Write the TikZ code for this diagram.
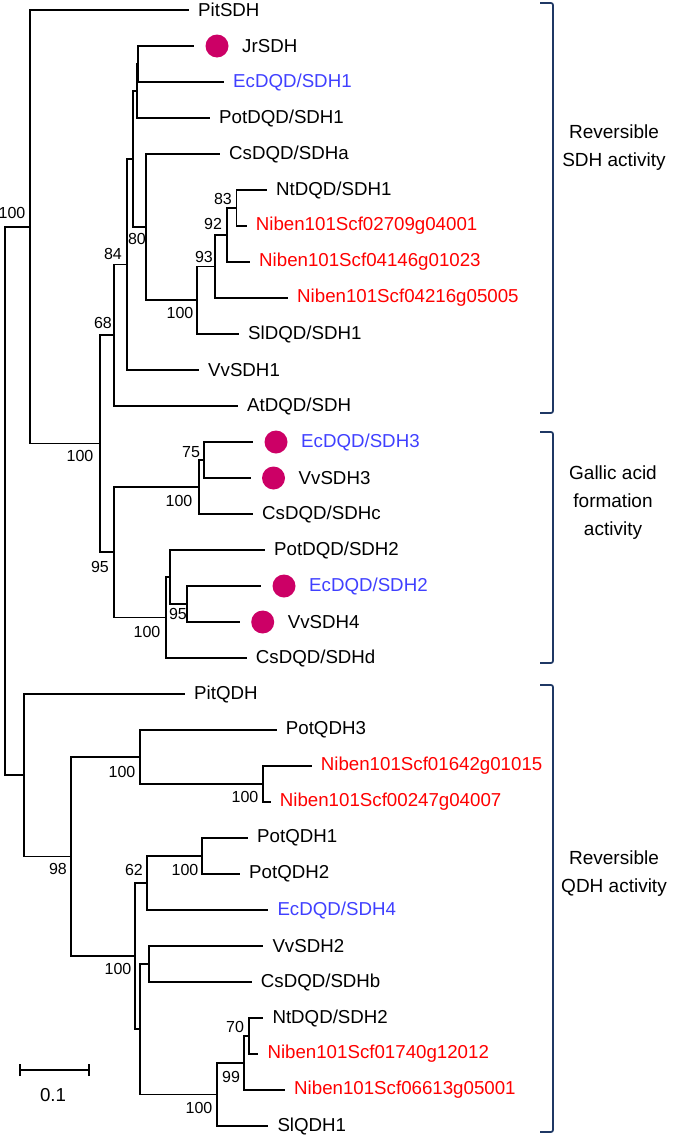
\documentclass[tikz,border=0pt]{standalone}
\usepackage{fontspec}
\setmainfont{Liberation Sans}
\definecolor{hitpink}{RGB}{204,0,102}
\definecolor{ecblue}{RGB}{64,64,255}
\definecolor{nbred}{RGB}{255,0,0}
\definecolor{cladeblue}{RGB}{31,56,100}
\newcommand\tipgap{9pt}
\newcommand\dotsize{23pt}
\newcommand\dotshift{16pt}
\tikzset{
  branch/.style={line width=1.7pt},
  leaf/.style={anchor=west,inner xsep=\tipgap,inner ysep=0pt,font=\fontsize{18.7}{22}\selectfont},
  boot/.style={inner sep=0pt,font=\fontsize{16}{18}\selectfont},
  hit/.style={circle,fill=hitpink,inner sep=0pt,minimum size=\dotsize,outer sep=11.5pt},
  clade/.style={draw=cladeblue,line width=1.7pt,rounded corners=2pt},
  cladetext/.style={align=center,font=\fontsize{19}{28}\selectfont}
}
\begin{document}
\begin{tikzpicture}[x=1pt,y=-1pt]
  \useasboundingbox (0,0) rectangle (695,1135);

  \coordinate (root) at (5,501);
  \coordinate (sdhAll) at (30,226.75);
  \coordinate (qdhAll) at (24,775);
  \coordinate (jrEc) at (138.3,64);
  \coordinate (jrPot) at (137.3,91);
  \coordinate (ntNb) at (236.5,208);
  \coordinate (nb92) at (226.7,235);
  \coordinate (nb93) at (215,266.5);
  \coordinate (sl100) at (197,300);
  \coordinate (cs80) at (146,227);
  \coordinate (topSdh) at (133,159);
  \coordinate (vv84) at (126.7,264.5);
  \coordinate (at68) at (114,335);
  \coordinate (sdh100) at (100,443.5);
  \coordinate (ec75) at (204.3,460);
  \coordinate (cs100c) at (199,487);
  \coordinate (ec95) at (187.3,604);
  \coordinate (potEc) at (170,577);
  \coordinate (cs100d) at (165.7,617.5);
  \coordinate (ga95) at (114,552);
  \coordinate (nb100) at (263.3,784);
  \coordinate (pot100) at (140,757);
  \coordinate (potQ100) at (201.7,856);
  \coordinate (ec62) at (147.3,883);
  \coordinate (vvCs) at (149.3,964);
  \coordinate (nt70) at (249.3,1036);
  \coordinate (nb99) at (244.3,1063);
  \coordinate (sl100q) at (216.7,1094.5);
  \coordinate (qdhLow) at (140,1029);
  \coordinate (qdh100) at (135,956);
  \coordinate (qdh98) at (70.7,856.5);

  \node[leaf] (PitSDH) at (189,10) {PitSDH};
  \node[hit] (JrDot) at (217,46) {};
  \node[leaf] (JrSDH) at ([xshift=\dotshift]JrDot.center) {JrSDH};
  \node[leaf,text=ecblue] (EcSDH1) at (224,82) {EcDQD/SDH1};
  \node[leaf] (PotSDH1) at (210,118) {PotDQD/SDH1};
  \node[leaf] (CsSDHa) at (220,154) {CsDQD/SDHa};
  \node[leaf] (NtSDH1) at (267,190) {NtDQD/SDH1};
  \node[leaf,text=nbred] (Nb02709) at (246.7,226) {Niben101Scf02709g04001};
  \node[leaf,text=nbred] (Nb04146) at (250,262) {Niben101Scf04146g01023};
  \node[leaf,text=nbred] (Nb04216) at (288,298) {Niben101Scf04216g05005};
  \node[leaf] (SlSDH1) at (239,334) {SlDQD/SDH1};
  \node[leaf] (VvSDH1) at (199,370) {VvSDH1};
  \node[leaf] (AtSDH) at (238,406) {AtDQD/SDH};
  \node[hit] (EcDot3) at (276,442) {};
  \node[leaf,text=ecblue] (EcSDH3) at ([xshift=\dotshift]EcDot3.center) {EcDQD/SDH3};
  \node[hit] (VvDot3) at (273.5,478) {};
  \node[leaf] (VvSDH3) at ([xshift=\dotshift]VvDot3.center) {VvSDH3};
  \node[leaf] (CsSDHc) at (253,514) {CsDQD/SDHc};
  \node[leaf] (PotSDH2) at (265,550) {PotDQD/SDH2};
  \node[hit] (EcDot2) at (284,586) {};
  \node[leaf,text=ecblue] (EcSDH2) at ([xshift=\dotshift]EcDot2.center) {EcDQD/SDH2};
  \node[hit] (VvDot4) at (262.7,622) {};
  \node[leaf] (VvSDH4) at ([xshift=\dotshift]VvDot4.center) {VvSDH4};
  \node[leaf] (CsSDHd) at (246.7,658) {CsDQD/SDHd};
  \node[leaf] (PitQDH) at (185,694) {PitQDH};
  \node[leaf] (PotQDH3) at (276.7,730) {PotQDH3};
  \node[leaf,text=nbred] (Nb01642) at (311.7,766) {Niben101Scf01642g01015};
  \node[leaf,text=nbred] (Nb00247) at (270.7,802) {Niben101Scf00247g04007};
  \node[leaf] (PotQDH1) at (248,838) {PotQDH1};
  \node[leaf] (PotQDH2) at (240,874) {PotQDH2};
  \node[leaf,text=ecblue] (EcSDH4) at (268.3,910) {EcDQD/SDH4};
  \node[leaf] (VvSDH2) at (263.3,946) {VvSDH2};
  \node[leaf] (CsSDHb) at (251.7,982) {CsDQD/SDHb};
  \node[leaf] (NtSDH2) at (263.3,1018) {NtDQD/SDH2};
  \node[leaf,text=nbred] (Nb01740) at (258.3,1054) {Niben101Scf01740g12012};
  \node[leaf,text=nbred] (Nb06613) at (285,1090) {Niben101Scf06613g05001};
  \node[leaf] (SlQDH1) at (268.3,1126) {SlQDH1};

  \draw[branch] (root) |- (sdhAll) (root) |- (qdhAll);
  \draw[branch] (sdhAll) |- (PitSDH.west) (sdhAll) |- (sdh100);
  \draw[branch] (sdh100) |- (at68) (sdh100) |- (ga95);
  \draw[branch] (at68) |- (vv84) (at68) |- (AtSDH.west);
  \draw[branch] (vv84) |- (topSdh) (vv84) |- (VvSDH1.west);
  \draw[branch] (topSdh) |- (jrPot) (topSdh) |- (cs80);
  \draw[branch] (jrPot) |- (jrEc) (jrPot) |- (PotSDH1.west);
  \draw[branch] (jrEc) |- (JrDot.west) (jrEc) |- (EcSDH1.west);
  \draw[branch] (cs80) |- (CsSDHa.west) (cs80) |- (sl100);
  \draw[branch] (sl100) |- (nb93) (sl100) |- (SlSDH1.west);
  \draw[branch] (nb93) |- (nb92) (nb93) |- (Nb04216.west);
  \draw[branch] (nb92) |- (ntNb) (nb92) |- (Nb04146.west);
  \draw[branch] (ntNb) |- (NtSDH1.west) (ntNb) |- (Nb02709.west);
  \draw[branch] (ga95) |- (cs100c) (ga95) |- (cs100d);
  \draw[branch] (cs100c) |- (ec75) (cs100c) |- (CsSDHc.west);
  \draw[branch] (ec75) |- (EcDot3.west) (ec75) |- (VvDot3.west);
  \draw[branch] (cs100d) |- (potEc) (cs100d) |- (CsSDHd.west);
  \draw[branch] (potEc) |- (PotSDH2.west) (potEc) |- (ec95);
  \draw[branch] (ec95) |- (EcDot2.west) (ec95) |- (VvDot4.west);
  \draw[branch] (qdhAll) |- (PitQDH.west) (qdhAll) |- (qdh98);
  \draw[branch] (qdh98) |- (pot100) (qdh98) |- (qdh100);
  \draw[branch] (pot100) |- (PotQDH3.west) (pot100) |- (nb100);
  \draw[branch] (nb100) |- (Nb01642.west) (nb100) |- (Nb00247.west);
  \draw[branch] (qdh100) |- (ec62) (qdh100) |- (qdhLow);
  \draw[branch] (ec62) |- (potQ100) (ec62) |- (EcSDH4.west);
  \draw[branch] (potQ100) |- (PotQDH1.west) (potQ100) |- (PotQDH2.west);
  \draw[branch] (qdhLow) |- (vvCs) (qdhLow) |- (sl100q);
  \draw[branch] (vvCs) |- (VvSDH2.west) (vvCs) |- (CsSDHb.west);
  \draw[branch] (sl100q) |- (nb99) (sl100q) |- (SlQDH1.west);
  \draw[branch] (nb99) |- (nt70) (nb99) |- (Nb06613.west);
  \draw[branch] (nt70) |- (NtSDH2.west) (nt70) |- (Nb01740.west);

  \node[boot] (bSdhAll) at (12,213) {100};
  \node[boot] (bSdh100) at (80,456) {100};
  \node[boot] (bAt68) at (103,323) {68};
  \node[boot] (bVv84) at (113,254) {84};
  \node[boot] (bCs80) at (137,239) {80};
  \node[boot] (bSl100) at (180,313) {100};
  \node[boot] (bNb93) at (204,257) {93};
  \node[boot] (bNb92) at (213,224) {92};
  \node[boot] (bNt83) at (223,199) {83};
  \node[boot] (bGa95) at (100,567) {95};
  \node[boot] (bCs100c) at (179,501) {100};
  \node[boot] (bEc75) at (191,452) {75};
  \node[boot] (bCs100d) at (147,632) {100};
  \node[boot] (bEc95) at (178,614) {95};
  \node[boot] (bQdh98) at (58,869) {98};
  \node[boot] (bPot100) at (122,772) {100};
  \node[boot] (bNb100) at (245,797) {100};
  \node[boot] (bEc62) at (134,870) {62};
  \node[boot] (bPotQ100) at (185,870) {100};
  \node[boot] (bQdh100) at (118,969) {100};
  \node[boot] (bSl100q) at (199,1108) {100};
  \node[boot] (bNb99) at (231,1077) {99};
  \node[boot] (bNt70) at (235,1027) {70};

  \coordinate (barL) at (20,1070);
  \coordinate (barR) at (89,1070);
  \draw[branch] (barL) -- (barR);
  \draw[branch] ([yshift=-6pt]barL) -- ([yshift=6pt]barL);
  \draw[branch] ([yshift=-6pt]barR) -- ([yshift=6pt]barR);
  \node[font=\fontsize{18.7}{22}\selectfont] (barText) at (53,1095) {0.1};

  \draw[clade] (540,3) -- (553,3) -- (553,413) -- (540,413);
  \draw[clade] (540,432) -- (553,432) -- (553,663) -- (540,663);
  \draw[clade] (540,685) -- (553,685) -- (553,1132) -- (540,1132);
  \node[cladetext] (sdhText) at (614,148) {Reversible\\SDH activity};
  \node[cladetext] (gallicText) at (613,503) {Gallic acid\\formation\\activity};
  \node[cladetext] (qdhText) at (614,874) {Reversible\\QDH activity};
\end{tikzpicture}
\end{document}
